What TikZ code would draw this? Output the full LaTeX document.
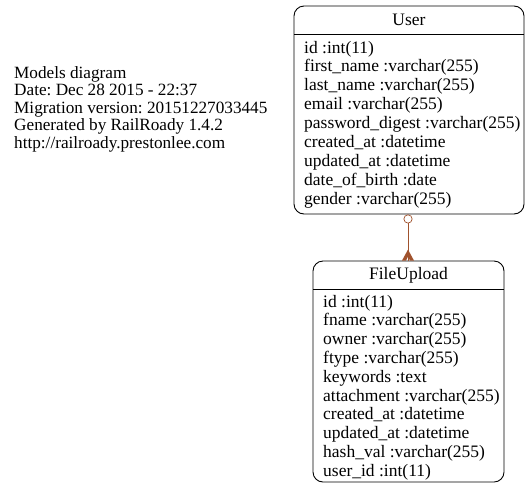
\documentclass[tikz,border=0pt]{standalone}
\usepackage{fontspec}
\setmainfont{Liberation Serif}
\usetikzlibrary{arrows.meta,positioning}
\definecolor{relcol}{HTML}{A0522D}
\frenchspacing

\begin{document}
\begin{tikzpicture}[x=1pt,y=-1pt,
    table/.style={draw,rounded corners=10pt,line width=0.9pt,inner sep=0pt},
    field/.style={anchor=base west,inner sep=0pt,font=\fontsize{17.5}{20}\selectfont},
    title/.style={anchor=base,inner sep=0pt,font=\fontsize{17.5}{20}\selectfont},
    rel/.style={draw=relcol,line width=0.7pt,
      {Circle[open,length=9pt,width=9pt,fill=white]}-}]
  \useasboundingbox (0,0) rectangle (529,493);
  % info text
  \foreach \txt [count=\i from 0] in {Models diagram,Date: Dec 28 2015 - 22:37,
      Migration version: 20151227033445,Generated by RailRoady 1.4.2,
      http://railroady.prestonlee.com}
    \node[field,font=\fontsize{17.2}{20}\selectfont] (info\i) at (14,78+17.5*\i) {\txt};
  % User
  \node[table,minimum width=230pt,minimum height=208pt] (user) at (409,110) {};
  \draw[line width=0.9pt] (294,34) -- (524,34);
  \node[title] (usertitle) at (409,25) {User};
  \foreach \txt [count=\i from 0] in {id :int(11),first\_name :varchar(255),
      last\_name :varchar(255),email :varchar(255),password\_digest :varchar(255),
      created\_at :datetime,updated\_at :datetime,date\_of\_birth :date,
      gender :varchar(255)}
    \node[field] (userf\i) at (304,53+18.9*\i) {\txt};
  % FileUpload
  \node[table,minimum width=191pt,minimum height=221pt] (upload) at (408.5,371.5) {};
  \draw[line width=0.9pt] (313,289) -- (504,289);
  \node[title] (uploadtitle) at (408.5,279) {FileUpload};
  \foreach \txt [count=\i from 0] in {id :int(11),fname :varchar(255),
      owner :varchar(255),ftype :varchar(255),keywords :text,
      attachment :varchar(255),created\_at :datetime,updated\_at :datetime,
      hash\_val :varchar(255),user\_id :int(11)}
    \node[field] (uploadf\i) at (323,307+18.8*\i) {\txt};
  % relation
  \draw[rel] ([xshift=-1pt]user.south) -- ([xshift=-0.5pt]upload.north);
  \fill[relcol] ([shift={(-0.5,-11)}]upload.north) -- ([shift={(-6.5,0)}]upload.north)
    -- ([shift={(-2.5,0)}]upload.north) -- ([shift={(-0.5,-4)}]upload.north)
    -- ([shift={(1.5,0)}]upload.north) -- ([shift={(5.5,0)}]upload.north) -- cycle;
\end{tikzpicture}
\end{document}
